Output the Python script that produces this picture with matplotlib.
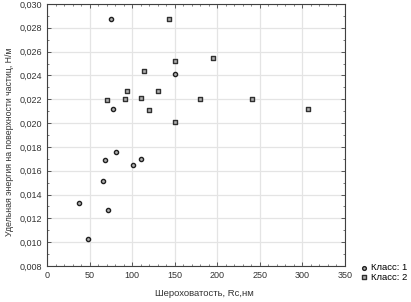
import matplotlib
matplotlib.use('Agg')
import matplotlib.pyplot as plt
from matplotlib.ticker import MultipleLocator, FuncFormatter

plt.rcParams['font.family'] = ['Liberation Sans', 'DejaVu Sans']

# Class 1 (circles)
rc1 = [75, 77, 38, 48, 66, 68, 72, 81, 101, 110, 150]
en1 = [0.0287, 0.0212, 0.0133, 0.0103, 0.0151, 0.0169, 0.0127, 0.0176, 0.0165, 0.0170, 0.0241]
# Class 2 (squares)
rc2 = [71, 92, 94, 110, 143, 150, 114, 195, 130, 120, 180, 241, 150, 307]
en2 = [0.0219, 0.0220, 0.0227, 0.0221, 0.0287, 0.0252, 0.0244, 0.0255, 0.0227, 0.0211, 0.0220, 0.0220, 0.0201, 0.0212]

xticks = [0, 50, 100, 150, 200, 250, 300, 350]

fig = plt.figure(figsize=(4.11, 3.02), dpi=100)
ax = fig.add_axes([0.1144, 0.1192, 0.7246, 0.8676])

ax.scatter(rc1, en1, marker='o', s=9, facecolor='#b0b0b0', edgecolor='#202020',
           linewidth=1.0, label='Класс: 1', zorder=3)
ax.scatter(rc2, en2, marker='s', s=9, facecolor='#b0b0b0', edgecolor='#303030',
           linewidth=1.0, label='Класс: 2', zorder=3)

ax.set_xlim(0, 350)
ax.set_ylim(0.008, 0.030)
ax.set_xticks(xticks)
ax.yaxis.set_major_locator(MultipleLocator(0.002))
ax.xaxis.set_minor_locator(MultipleLocator(10))
ax.yaxis.set_minor_locator(MultipleLocator(0.001))
ax.yaxis.set_major_formatter(FuncFormatter(lambda v, p: ('%.3f' % v).replace('.', ',')))

ax.grid(True, which='major', color='#e4e4e4', linewidth=0.9)
ax.set_axisbelow(True)
for s in ax.spines.values():
    s.set_color('#404040')
    s.set_linewidth(0.8)
ax.tick_params(which='both', direction='in', top=True, right=True,
               color='#404040', labelsize=6.5, labelcolor='#333333')
ax.tick_params(which='major', length=3, width=0.6)
ax.tick_params(which='minor', length=1.5, width=0.5)

ax.set_xlabel('Шероховатость, Rc,нм', fontsize=6.8, color='#333333')
ax.xaxis.set_label_coords(0.53, -0.088)
ax.set_ylabel('Удельная энергия на поверхности частиц, Н/м', fontsize=6.3,
              color='#333333')
ax.yaxis.set_label_coords(-0.11, 0.473)

fig.legend(handles=ax.collections, labels=['Класс: 1', 'Класс: 2'],
           loc='upper left', bbox_to_anchor=(0.872, 0.128), frameon=False,
           fontsize=6.8, handletextpad=0.1, labelspacing=0.05, borderaxespad=0.0,
           borderpad=0.0, markerscale=0.9, handlelength=1.2)

fig.savefig('out.png', dpi=100)
